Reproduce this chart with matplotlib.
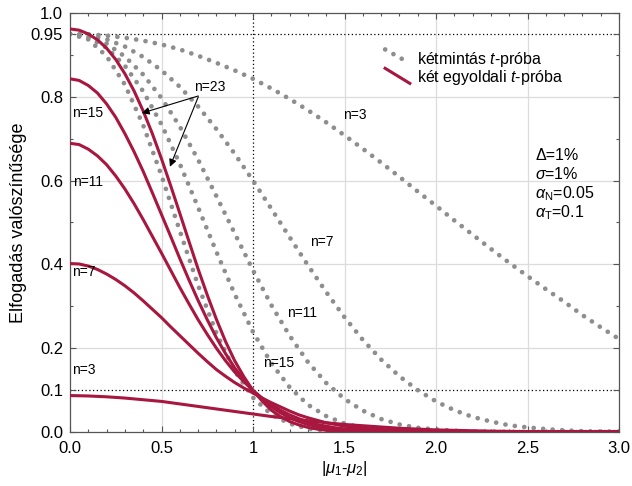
import matplotlib
matplotlib.use("Agg")
import matplotlib.pyplot as plt
from matplotlib.ticker import FixedLocator

plt.rcParams['font.family'] = ['Liberation Sans', 'DejaVu Sans']
plt.rcParams['mathtext.fontset'] = 'custom'
plt.rcParams['mathtext.rm'] = 'Liberation Sans'
plt.rcParams['mathtext.it'] = 'Liberation Sans:italic'
plt.rcParams['mathtext.bf'] = 'Liberation Sans:bold'

# |mu1 - mu2| sample positions
diff = [0.0, 0.1, 0.2, 0.3, 0.4, 0.5, 0.6, 0.7, 0.8, 0.9,
        1.0, 1.1, 1.2, 1.3, 1.4, 1.5, 1.6, 1.7, 1.8, 1.9,
        2.0, 2.1, 2.2, 2.3, 2.4, 2.5, 2.6, 2.7, 2.8, 2.9, 3.0]
# finer positions for the steep red curves
diff_fine = [0.0, 0.05, 0.1, 0.15, 0.2, 0.25, 0.3, 0.35, 0.4, 0.45,
             0.5, 0.55, 0.6, 0.65, 0.7, 0.75, 0.8, 0.85, 0.9, 0.95,
             1.0, 1.05, 1.1, 1.15, 1.2, 1.25, 1.3, 1.35, 1.4, 1.45, 1.5,
             1.6, 1.7, 1.8, 1.9, 2.0, 2.1, 2.2, 2.3, 2.4, 2.5, 2.6, 2.7, 2.8, 2.9, 3.0]

# ketmintas t-proba (dotted grey), acceptance probability
ttest_n3 = [0.950, 0.949, 0.946, 0.941, 0.934, 0.925, 0.913, 0.898, 0.881, 0.863,
            0.843, 0.820, 0.795, 0.768, 0.739, 0.708, 0.676, 0.643, 0.609, 0.574,
            0.540, 0.505, 0.471, 0.437, 0.404, 0.372, 0.341, 0.311, 0.279, 0.250, 0.222]
ttest_n7 = [0.950, 0.947, 0.937, 0.920, 0.895, 0.863, 0.824, 0.777, 0.723, 0.664,
            0.600, 0.533, 0.465, 0.398, 0.334, 0.274, 0.220, 0.173, 0.133, 0.100,
            0.073, 0.052, 0.036, 0.025, 0.016, 0.011, 0.007, 0.004, 0.002, 0.001, 0.001]
ttest_n11 = [0.950, 0.944, 0.927, 0.896, 0.853, 0.797, 0.729, 0.650, 0.563, 0.474,
             0.386, 0.303, 0.230, 0.167, 0.117, 0.079, 0.051, 0.031, 0.018, 0.010,
             0.006, 0.003, 0.001, 0.001, 0.0, 0.0, 0.0, 0.0, 0.0, 0.0, 0.0]
ttest_n15 = [0.950, 0.942, 0.917, 0.874, 0.813, 0.734, 0.640, 0.536, 0.430, 0.329,
             0.239, 0.164, 0.107, 0.065, 0.038, 0.020, 0.010, 0.005, 0.002, 0.001,
             0.0, 0.0, 0.0, 0.0, 0.0, 0.0, 0.0, 0.0, 0.0, 0.0, 0.0]
ttest_n23 = [0.950, 0.937, 0.897, 0.829, 0.732, 0.612, 0.480, 0.350, 0.236, 0.146,
             0.082, 0.042, 0.020, 0.008, 0.003, 0.001, 0.0, 0.0, 0.0, 0.0,
             0.0, 0.0, 0.0, 0.0, 0.0, 0.0, 0.0, 0.0, 0.0, 0.0, 0.0]

# ket egyoldali t-proba (TOST, red)
tost_n3 = [0.087, 0.086, 0.084, 0.081, 0.077, 0.073, 0.067, 0.061, 0.055, 0.049,
           0.043, 0.037, 0.032, 0.027, 0.022, 0.018, 0.015, 0.012, 0.009, 0.007,
           0.005, 0.004, 0.003, 0.002, 0.0015, 0.001, 0.0007, 0.0005, 0.0004, 0.0003, 0.0002]
tost_n7 = [0.402, 0.401, 0.396, 0.388, 0.377, 0.364, 0.349, 0.332, 0.313, 0.293,
           0.273, 0.251, 0.230, 0.209, 0.188, 0.168, 0.149, 0.133, 0.118, 0.105,
           0.093, 0.081, 0.070, 0.060, 0.050, 0.041, 0.034, 0.028, 0.022, 0.018, 0.014,
           0.009, 0.006, 0.004, 0.002, 0.0015, 0.001, 0.0006, 0.0004, 0.0003, 0.0002,
           0.0001, 0.0, 0.0, 0.0, 0.0]
tost_n11 = [0.689, 0.686, 0.675, 0.659, 0.638, 0.611, 0.580, 0.545, 0.507, 0.467,
            0.427, 0.386, 0.345, 0.306, 0.268, 0.233, 0.200, 0.170, 0.143, 0.120,
            0.099, 0.081, 0.065, 0.052, 0.041, 0.032, 0.024, 0.018, 0.014, 0.010, 0.0075,
            0.004, 0.002, 0.001, 0.0005, 0.0, 0.0, 0.0, 0.0, 0.0, 0.0,
            0.0, 0.0, 0.0, 0.0, 0.0]
tost_n15 = [0.843, 0.839, 0.827, 0.809, 0.783, 0.751, 0.712, 0.669, 0.622, 0.571,
            0.519, 0.467, 0.414, 0.363, 0.314, 0.268, 0.225, 0.187, 0.153, 0.124,
            0.099, 0.078, 0.060, 0.046, 0.034, 0.025, 0.018, 0.013, 0.009, 0.006, 0.004,
            0.002, 0.001, 0.0, 0.0, 0.0, 0.0, 0.0, 0.0, 0.0, 0.0,
            0.0, 0.0, 0.0, 0.0, 0.0]
tost_n23 = [0.962, 0.959, 0.950, 0.936, 0.916, 0.889, 0.855, 0.814, 0.766, 0.712,
            0.652, 0.588, 0.522, 0.455, 0.389, 0.327, 0.269, 0.216, 0.170, 0.132,
            0.099, 0.074, 0.052, 0.037, 0.025, 0.017, 0.011, 0.007, 0.004, 0.0025, 0.0015,
            0.0005, 0.0, 0.0, 0.0, 0.0, 0.0, 0.0, 0.0, 0.0, 0.0,
            0.0, 0.0, 0.0, 0.0, 0.0]

ttest_curves = [ttest_n3, ttest_n7, ttest_n11, ttest_n15, ttest_n23]
tost_fine_curves = [tost_n7, tost_n11, tost_n15, tost_n23]

xtick_vals = [0.0, 0.5, 1.0, 1.5, 2.0, 2.5, 3.0]
xtick_labels = ['0.0', '0.5', '1', '1.5', '2.0', '2.5', '3.0']
ytick_vals = [0.0, 0.1, 0.2, 0.4, 0.6, 0.8, 0.95, 1.0]
ytick_labels = ['0.0', '0.1', '0.2', '0.4', '0.6', '0.8', '0.95', '1.0']

grey = '#8e8e8e'
red = '#a8173f'

fig = plt.figure(figsize=(6.32, 4.86), dpi=100)
ax = fig.add_axes([70/632, 1-432/486, 549/632, 419/486])

for gx in [0.5, 1.5, 2.0, 2.5]:
    ax.axvline(gx, color='#dcdcdc', lw=0.9, zorder=0)
for gy in [0.2, 0.4, 0.6, 0.8]:
    ax.axhline(gy, color='#dcdcdc', lw=0.9, zorder=0)
ax.axvline(1.0, color='k', lw=0.9, ls=(0, (1, 2)), zorder=1)
ax.axhline(0.1, color='k', lw=0.9, ls=(0, (1, 2)), zorder=1)
ax.axhline(0.95, color='k', lw=0.9, ls=(0, (1, 2)), zorder=1)

for vals in ttest_curves:
    ax.plot(diff, vals, color=grey, lw=3.4, ls=(0, (0.01, 2.0)),
            dash_capstyle='round', zorder=2)
ax.plot(diff, tost_n3, color=red, lw=2.2, zorder=3)
for vals in tost_fine_curves:
    ax.plot(diff_fine, vals, color=red, lw=2.2, zorder=3)

ax.set_xlim(0, 3)
ax.set_ylim(0, 1)
ax.set_xticks(xtick_vals, xtick_labels)
ax.set_yticks(ytick_vals, ytick_labels)
ax.xaxis.set_minor_locator(FixedLocator([i/10 for i in range(31) if i % 5]))
ax.yaxis.set_minor_locator(FixedLocator([0.3, 0.5, 0.7, 0.9]))
ax.tick_params(which='both', direction='in', top=True, right=True,
               color='#555555', width=0.8, labelsize=12)
ax.tick_params(which='major', length=4.5)
ax.tick_params(which='minor', length=2.5)
ax.tick_params(axis='x', pad=6.5)
ax.tick_params(axis='y', pad=5)
for sp in ax.spines.values():
    sp.set_color('#555555')
    sp.set_linewidth(0.9)

ax.set_xlabel(r'$|\mu_1$-$\mu_2|$', fontsize=12, labelpad=2)
ax.set_ylabel('Elfogadás valószínűsége', fontsize=13, labelpad=3)

# legend with diagonal samples
ax.plot([0.574, 0.619], [0.913, 0.880], transform=ax.transAxes, color=grey,
        lw=3.4, ls=(0, (0.01, 2.0)), dash_capstyle='round', clip_on=False)
ax.plot([0.574, 0.619], [0.868, 0.832], transform=ax.transAxes, color=red,
        lw=2.2, clip_on=False)
ax.text(0.632, 0.888, 'kétmintás $t$-próba', transform=ax.transAxes,
        fontsize=11.5, va='center')
ax.text(0.632, 0.847, 'két egyoldali $t$-próba', transform=ax.transAxes,
        fontsize=11.5, va='center')

params = ['Δ=1%', r'$\sigma$=1%', r'$\alpha_{\mathrm{N}}$=0.05', r'$\alpha_{\mathrm{T}}$=0.1']
for i, s in enumerate(params):
    ax.text(0.847, 0.661 - 0.046*i, s, transform=ax.transAxes, fontsize=11.5, va='center')

# curve labels
lab = dict(fontsize=10, va='center')
ax.text(0.011, 0.761, 'n=15', **lab)
ax.text(0.016, 0.597, 'n=11', **lab)
ax.text(0.011, 0.383, 'n=7', **lab)
ax.text(0.011, 0.148, 'n=3', **lab)
ax.text(1.492, 0.757, 'n=3', **lab)
ax.text(1.311, 0.454, 'n=7', **lab)
ax.text(1.186, 0.285, 'n=11', **lab)
ax.text(1.055, 0.164, 'n=15', **lab)
ax.text(0.678, 0.824, 'n=23', **lab)
arrow = dict(arrowstyle='-|>', color='k', lw=0.8, mutation_scale=11, shrinkA=0, shrinkB=0)
ax.annotate('', xy=(0.392, 0.761), xytext=(0.701, 0.802), arrowprops=arrow)
ax.annotate('', xy=(0.546, 0.633), xytext=(0.701, 0.800), arrowprops=arrow)

fig.savefig('out.png', dpi=100)
